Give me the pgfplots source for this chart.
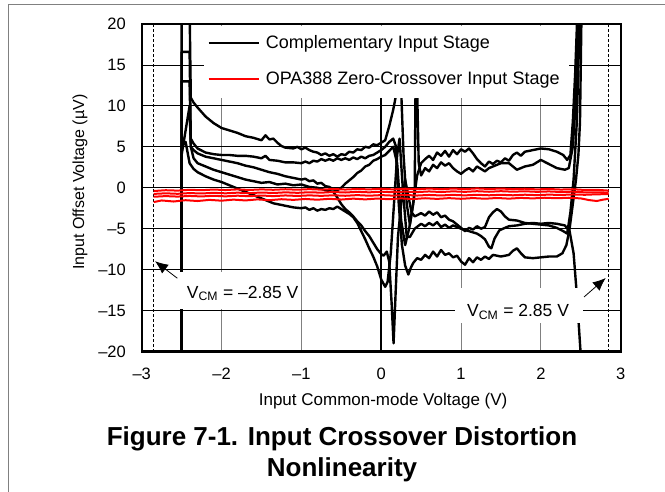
\documentclass[border=0pt]{standalone}
\usepackage{fontspec}
\setmainfont{Liberation Sans}
\usepackage{pgfplots}
\pgfplotsset{compat=1.18}
\usetikzlibrary{arrows.meta}

\begin{document}
\begin{tikzpicture}[x=1pt,y=1pt]
\begin{axis}[
  name=ax, at={(0pt,0pt)}, anchor=south west,
  scale only axis, width=479pt, height=327.5pt,
  xmin=-3, xmax=3, ymin=-20, ymax=20,
  xtick={-3,...,3}, ytick={-20,-15,...,20},
  xticklabels={\textendash3,\textendash2,\textendash1,0,1,2,3},
  yticklabels={\textendash20,\textendash15,\textendash10,\textendash5,0,5,10,15,20},
  major tick length=0pt,
  tick label style={font=\fontsize{16.5}{18}\selectfont, inner sep=0pt},
  xticklabel style={yshift=-16.5pt},
  yticklabel style={xshift=-15.7pt},
  xmajorgrids, ymajorgrids,
  x grid style={gray, line width=0.9pt},
  y grid style={black, line width=0.8pt},
  axis line style={line width=2.2pt},
  xlabel={Input Common-mode Voltage (V)},
  ylabel={Input Offset Voltage (µV)},
  every axis x label/.style={at={(axis description cs:0.504,-0.151)}, anchor=center, font=\fontsize{17}{19}\selectfont},
  every axis y label/.style={at={(axis description cs:-0.1288,0.517)}, anchor=center, rotate=90, font=\fontsize{16}{18}\selectfont},
  legend image code/.code={\draw[#1] (0pt,0pt) -- (50pt,0pt);},
  legend style={at={(axis cs:-2.18,18.6)}, anchor=north west, draw=none, fill=none,
    inner sep=0pt, row sep=22pt, column sep=6pt,
    font=\fontsize{18}{20}\selectfont, nodes={inner sep=0pt}},
  legend cell align=left,
  blk/.style={black, line width=2.4pt, line join=round},
  rd/.style={red, line width=2pt, line join=round},
]

% dashed limits
\addplot[forget plot, black, line width=0.7pt, dash pattern=on 3pt off 2pt] coordinates {(-2.85,-20) (-2.85,20)};
\addplot[forget plot, black, line width=0.7pt, dash pattern=on 3pt off 2pt] coordinates {(2.85,-20) (2.85,20)};

% complementary input stage
\addplot[blk] coordinates {
(-2.5,-22) (-2.5,22) (-2.4,22) (-2.385,11) (-2.35,10.4) (-2.3,9.8) (-2.2,8.7) (-2.1,7.9) (-2.0,7.3)
(-1.9,7.0) (-1.8,6.7) (-1.7,6.3) (-1.6,6.1) (-1.5,5.8) (-1.45,6.4) (-1.4,5.9) (-1.35,6.0) (-1.3,5.5)
(-1.25,5.1) (-1.2,4.9) (-1.1,4.8) (-1.05,5.0) (-1.0,4.7) (-0.95,4.9) (-0.9,4.6) (-0.85,4.4) (-0.8,4.3)
(-0.75,4.0) (-0.7,4.2) (-0.65,3.9) (-0.6,4.1) (-0.55,3.8) (-0.5,4.1) (-0.45,4.0) (-0.4,4.4) (-0.35,4.3)
(-0.3,4.7) (-0.25,4.6) (-0.2,5.0) (-0.15,4.9) (-0.1,5.3) (-0.05,5.2) (0.0,5.5) (0.05,5.8) (0.1,7.5)
(0.15,9.5) (0.2,12) (0.25,12) (0.28,4) (0.32,-2) (0.36,-4.5) (0.4,-2) (0.45,1.5) (0.5,3) (0.55,3.5)
(0.6,3.9) (0.65,3.4) (0.7,4.3) (0.75,3.9) (0.8,4.5) (0.85,3.8) (0.9,4.6) (0.95,4.1) (1.0,4.7) (1.05,4.4)
(1.1,4.8) (1.15,4.2) (1.2,3.5) (1.25,3.0) (1.3,2.6) (1.35,3.2) (1.4,2.9) (1.45,3.3) (1.5,3.1) (1.55,3.6)
(1.6,3.3) (1.65,4.0) (1.7,4.3) (1.75,3.9) (1.8,4.4) (1.9,4.6) (2.0,4.8) (2.1,4.7) (2.2,4.4) (2.28,4.0)
(2.33,3.4) (2.37,4) (2.4,8) (2.43,14) (2.46,22)};
\addlegendentry{Complementary Input Stage}

\addplot[blk, forget plot] coordinates {
(-2.5,-22) (-2.5,16.6) (-2.4,16.6) (-2.385,6) (-2.35,5.4) (-2.3,4.8) (-2.2,4.3) (-2.1,4.1) (-2.0,4.0)
(-1.9,4.0) (-1.8,3.9) (-1.7,3.9) (-1.6,3.8) (-1.5,3.6) (-1.45,3.9) (-1.4,3.4) (-1.3,3.3) (-1.2,3.1)
(-1.1,3.1) (-1.0,3.0) (-0.95,3.2) (-0.9,3.0) (-0.85,3.3) (-0.8,3.2) (-0.75,3.5) (-0.7,3.3) (-0.65,3.5)
(-0.6,3.3) (-0.55,3.6) (-0.5,3.4) (-0.45,3.6) (-0.4,3.4) (-0.35,3.7) (-0.3,3.5) (-0.25,3.8) (-0.2,3.6)
(-0.15,3.9) (-0.1,4.0) (-0.05,4.3) (0.0,4.6) (0.05,5.0) (0.1,5.6) (0.15,6.0) (0.18,5.2) (0.22,-2)
(0.26,-7) (0.3,-9.5) (0.34,-10.6) (0.37,-9.8) (0.4,-9.2) (0.45,-8.6) (0.5,-8.8) (0.55,-8.2) (0.6,-8.6)
(0.65,-7.8) (0.7,-8.4) (0.75,-7.6) (0.8,-8.2) (0.85,-8.0) (0.9,-8.5) (0.95,-8.3) (1.0,-9.0) (1.05,-9.4)
(1.1,-8.6) (1.15,-9.1) (1.2,-8.5) (1.25,-8.8) (1.3,-8.4) (1.35,-8.7) (1.4,-8.2) (1.5,-8.4) (1.6,-8.2)
(1.65,-7.7) (1.7,-7.4) (1.75,-8.0) (1.8,-8.5) (1.9,-8.6) (2.0,-8.5) (2.1,-8.4) (2.2,-8.4) (2.27,-8.0)
(2.32,-7) (2.36,-5) (2.4,-2) (2.44,1) (2.47,4) (2.49,8) (2.51,22)};

\addplot[blk, forget plot] coordinates {
(-2.5,-22) (-2.5,13) (-2.4,13) (-2.385,5) (-2.35,4.6) (-2.3,4.2) (-2.2,3.8) (-2.1,3.6) (-2.0,3.4)
(-1.9,3.2) (-1.8,3.0) (-1.7,2.7) (-1.6,2.5) (-1.5,2.2) (-1.4,1.9) (-1.3,1.7) (-1.2,1.4) (-1.1,1.2)
(-1.0,1.0) (-0.95,1.1) (-0.9,0.8) (-0.85,0.9) (-0.8,0.5) (-0.75,0.6) (-0.7,0.2) (-0.65,0.1) (-0.6,-0.2)
(-0.55,-0.3) (-0.5,0.0) (-0.45,0.5) (-0.4,0.9) (-0.35,1.3) (-0.3,1.8) (-0.25,2.1) (-0.2,2.6) (-0.15,2.8)
(-0.1,3.3) (-0.05,3.5) (0.0,3.8) (0.05,4.0) (0.1,4.5) (0.15,5.0) (0.2,3) (0.25,-4) (0.3,-7) (0.35,-5)
(0.4,-2) (0.42,0) (0.43,12) (0.45,12) (0.47,3) (0.5,1.5) (0.55,2.4) (0.6,2.0) (0.65,2.8) (0.7,2.4)
(0.75,3.1) (0.8,2.7) (0.85,3.0) (0.9,2.4) (0.95,2.0) (1.0,1.7) (1.05,2.1) (1.1,2.4) (1.15,2.0) (1.2,2.6)
(1.25,2.3) (1.3,2.0) (1.35,2.4) (1.4,2.6) (1.5,3.0) (1.6,3.0) (1.7,2.2) (1.8,2.6) (1.9,2.8) (2.0,3.4)
(2.1,2.9) (2.2,2.4) (2.3,2.2) (2.35,2.4) (2.4,5) (2.44,11) (2.48,22)};

\addplot[blk, forget plot] coordinates {
(-2.5,-22) (-2.5,4) (-2.4,10) (-2.385,5) (-2.35,3.6) (-2.3,3.0) (-2.2,2.6) (-2.1,2.2) (-2.0,1.9)
(-1.9,1.6) (-1.8,1.3) (-1.7,1.0) (-1.6,0.8) (-1.5,0.6) (-1.4,0.7) (-1.3,0.4) (-1.2,0.5) (-1.1,0.3)
(-1.0,0.4) (-0.9,0.1) (-0.8,0.0) (-0.7,-0.3) (-0.6,-0.5) (-0.55,-1.2) (-0.5,-2.0) (-0.45,-2.6) (-0.4,-3.0)
(-0.35,-3.5) (-0.3,-4.1) (-0.25,-4.6) (-0.2,-5.3) (-0.15,-5.9) (-0.1,-6.7) (-0.05,-7.5) (0.0,-8.1)
(0.03,-8.3) (0.07,-7.8) (0.1,-9) (0.13,-14) (0.155,-19) (0.18,-13) (0.21,-6) (0.25,-2) (0.3,1) (0.34,-1)
(0.38,-3) (0.42,-3.5) (0.5,-3.1) (0.55,-3.4) (0.6,-2.9) (0.65,-3.3) (0.7,-3.0) (0.75,-3.6) (0.8,-3.4)
(0.85,-3.9) (0.9,-4.1) (0.95,-4.5) (1.0,-4.9) (1.05,-5.3) (1.1,-4.9) (1.15,-5.1) (1.2,-4.7) (1.25,-5.0)
(1.3,-4.8) (1.35,-3.6) (1.4,-3.0) (1.45,-2.6) (1.5,-2.9) (1.55,-3.5) (1.6,-3.9) (1.7,-4.0) (1.8,-4.3)
(1.9,-4.4) (2.0,-4.5) (2.1,-4.6) (2.2,-4.9) (2.28,-5.3) (2.33,-5.6) (2.37,-3) (2.41,1) (2.45,8) (2.49,22)};

\addplot[blk, forget plot] coordinates {
(-2.5,-22) (-2.5,5) (-2.45,5.6) (-2.4,3) (-2.35,2.3) (-2.3,1.9) (-2.2,1.4) (-2.1,1.0) (-2.0,0.7)
(-1.9,0.3) (-1.8,-0.1) (-1.7,-0.5) (-1.6,-0.9) (-1.5,-1.3) (-1.4,-1.7) (-1.35,-1.9) (-1.3,-2.0)
(-1.2,-2.2) (-1.1,-2.4) (-1.0,-2.5) (-0.95,-2.4) (-0.9,-2.7) (-0.85,-2.5) (-0.8,-2.8) (-0.75,-2.6)
(-0.7,-2.7) (-0.65,-2.5) (-0.6,-2.6) (-0.55,-2.3) (-0.5,-2.6) (-0.45,-2.9) (-0.4,-3.2) (-0.35,-3.6)
(-0.3,-4.3) (-0.25,-5.3) (-0.2,-6.3) (-0.15,-7.4) (-0.1,-8.4) (-0.05,-9.6) (0.0,-11.2) (0.05,-12.1)
(0.08,-11.5) (0.12,-8) (0.16,-2) (0.2,4) (0.23,6) (0.27,0) (0.32,-6) (0.36,-6) (0.42,-5) (0.5,-4.4)
(0.55,-4.7) (0.6,-4.3) (0.65,-4.6) (0.7,-4.2) (0.75,-4.8) (0.8,-4.5) (0.85,-4.9) (0.9,-4.6) (1.0,-5.0)
(1.1,-5.3) (1.2,-5.6) (1.25,-5.9) (1.3,-6.3) (1.35,-7.2) (1.38,-7.4) (1.42,-6.2) (1.48,-5.2) (1.55,-4.9)
(1.6,-4.7) (1.7,-4.6) (1.8,-4.4) (1.9,-4.3) (2.0,-4.4) (2.1,-4.3) (2.2,-4.4) (2.3,-4.6) (2.36,-5.3)
(2.41,-8) (2.45,-13) (2.49,-19) (2.51,-22)};

\addplot[blk, forget plot] coordinates {(0,-22) (0,12)};

% OPA388 zero-crossover input stage
\addplot[rd] coordinates {
(-2.85,-0.4) (-2.7,-0.3) (-2.55,-0.35) (-2.4,-0.25) (-2.25,-0.3) (-2.1,-0.22) (-1.95,-0.28) (-1.8,-0.2)
(-1.65,-0.27) (-1.5,-0.2) (-1.35,-0.25) (-1.2,-0.18) (-1.05,-0.24) (-0.9,-0.17) (-0.75,-0.23) (-0.6,-0.15)
(-0.45,-0.22) (-0.3,-0.15) (-0.15,-0.2) (0,-0.12) (0.15,-0.2) (0.3,-0.12) (0.45,-0.18) (0.6,-0.1)
(0.75,-0.17) (0.9,-0.1) (1.05,-0.16) (1.2,-0.08) (1.35,-0.15) (1.5,-0.1) (1.65,-0.16) (1.8,-0.12)
(1.95,-0.2) (2.1,-0.15) (2.25,-0.22) (2.4,-0.18) (2.55,-0.27) (2.7,-0.25) (2.85,-0.35)};
\addlegendentry{OPA388 Zero-Crossover Input Stage}

\addplot[rd, forget plot] coordinates {
(-2.85,-0.75) (-2.7,-0.68) (-2.55,-0.74) (-2.4,-0.65) (-2.25,-0.7) (-2.1,-0.62) (-1.95,-0.68) (-1.8,-0.6)
(-1.65,-0.66) (-1.5,-0.58) (-1.35,-0.64) (-1.2,-0.56) (-1.05,-0.62) (-0.9,-0.55) (-0.75,-0.6) (-0.6,-0.52)
(-0.45,-0.58) (-0.3,-0.5) (-0.15,-0.56) (0,-0.48) (0.15,-0.55) (0.3,-0.47) (0.45,-0.53) (0.6,-0.45)
(0.75,-0.52) (0.9,-0.44) (1.05,-0.5) (1.2,-0.42) (1.35,-0.49) (1.5,-0.42) (1.65,-0.48) (1.8,-0.43)
(1.95,-0.5) (2.1,-0.45) (2.25,-0.52) (2.4,-0.48) (2.55,-0.56) (2.7,-0.55) (2.85,-0.6)};

\addplot[rd, forget plot] coordinates {
(-2.85,-1.1) (-2.7,-1.02) (-2.55,-1.08) (-2.4,-1.0) (-2.25,-1.06) (-2.1,-0.98) (-1.95,-1.05) (-1.8,-0.97)
(-1.65,-1.03) (-1.5,-0.95) (-1.35,-1.02) (-1.2,-0.94) (-1.05,-1.0) (-0.9,-0.93) (-0.75,-0.99) (-0.6,-0.92)
(-0.45,-0.98) (-0.3,-0.9) (-0.15,-0.97) (0,-0.9) (0.15,-0.96) (0.3,-0.88) (0.45,-0.95) (0.6,-0.88)
(0.75,-0.94) (0.9,-0.87) (1.05,-0.93) (1.2,-0.86) (1.35,-0.92) (1.5,-0.86) (1.65,-0.92) (1.8,-0.85)
(1.95,-0.9) (2.1,-0.84) (2.25,-0.88) (2.4,-0.82) (2.55,-0.86) (2.7,-0.8) (2.85,-0.78)};

\addplot[rd, forget plot] coordinates {
(-2.85,-1.75) (-2.75,-1.55) (-2.6,-1.68) (-2.45,-1.52) (-2.3,-1.62) (-2.15,-1.48) (-2.0,-1.58) (-1.85,-1.45)
(-1.7,-1.55) (-1.55,-1.42) (-1.4,-1.52) (-1.25,-1.4) (-1.1,-1.48) (-0.95,-1.37) (-0.8,-1.46) (-0.65,-1.35)
(-0.5,-1.44) (-0.35,-1.33) (-0.2,-1.42) (-0.05,-1.32) (0.1,-1.4) (0.25,-1.3) (0.4,-1.38) (0.55,-1.28)
(0.7,-1.36) (0.85,-1.27) (1.0,-1.35) (1.15,-1.26) (1.3,-1.34) (1.45,-1.25) (1.6,-1.33) (1.75,-1.24)
(1.9,-1.3) (2.05,-1.22) (2.2,-1.28) (2.35,-1.22) (2.5,-1.3) (2.6,-1.5) (2.7,-1.62) (2.78,-1.45) (2.85,-1.35)};

% white boxes behind legend and annotations
\fill[white] (axis cs:-2.218,10.96) rectangle (axis cs:2.355,19.8);
\fill[white] (axis cs:-2.646,-10.29) rectangle (axis cs:-1.018,-14.81);
\fill[white] (axis cs:0.925,-12.24) rectangle (axis cs:2.528,-16.52);

\node[anchor=base west, inner sep=0pt, font=\fontsize{17.5}{20}\selectfont] at (axis cs:-2.436,-13.51) {V\textsubscript{CM} = \textendash2.85 V};
\node[anchor=base west, inner sep=0pt, font=\fontsize{17.5}{20}\selectfont] at (axis cs:1.075,-15.75) {V\textsubscript{CM} = 2.85 V};
\draw[line width=0.8pt, -{Latex[length=13pt,width=11pt]}] (axis cs:-2.554,-11.05) -- (axis cs:-2.833,-8.97);
\draw[line width=0.8pt, -{Latex[length=13pt,width=11pt]}] (axis cs:2.541,-13.34) -- (axis cs:2.813,-11.02);
\end{axis}

% page frame and caption, placed relative to the axis corner
\pgfresetboundingbox
\begin{scope}[shift={(ax.south west)}, shift={(-141.7pt,-139.5pt)}]
\path[use as bounding box] (0,0) rectangle (665,491);
\draw[gray, line width=1.2pt] (8.5,-10) -- (8.5,486.3) -- (680,486.3);
\node[anchor=base, inner sep=0pt, font=\bfseries\fontsize{26}{30}\selectfont] at (342,46) {Figure 7-1. Input Crossover Distortion};
\node[anchor=base, inner sep=0pt, font=\bfseries\fontsize{26}{30}\selectfont] at (342,14.3) {Nonlinearity};
\end{scope}
\end{tikzpicture}
\end{document}
